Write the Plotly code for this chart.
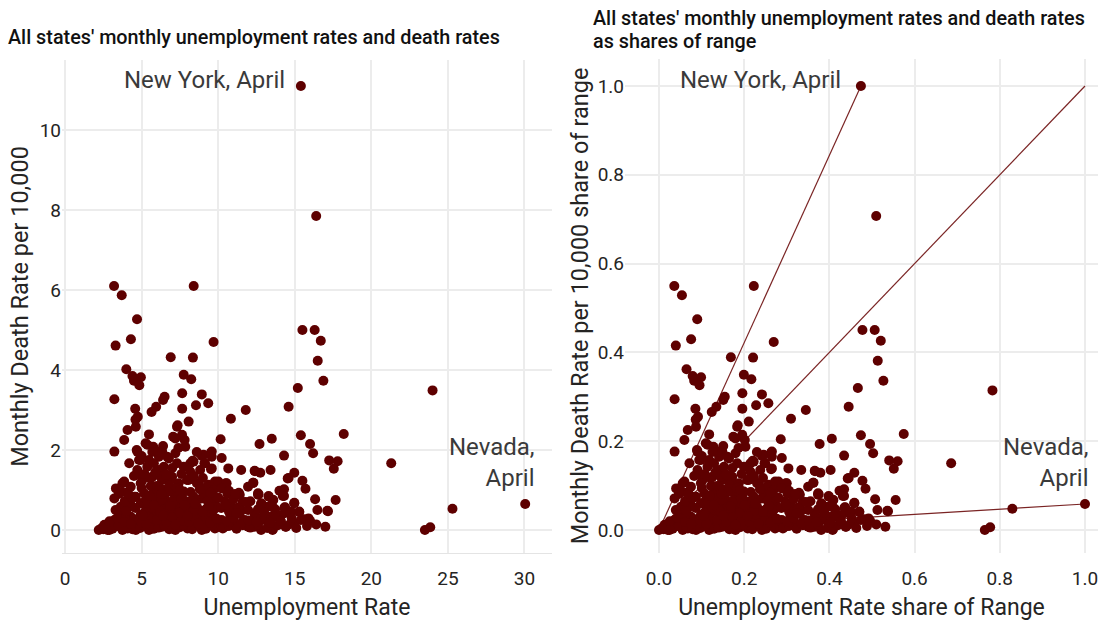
import plotly.graph_objects as go

W, H = 1101, 623

# Unemployment rate (x) and monthly death rate per 10,000 (y) for each state-month
unemployment = [
    15.4, 16.4, 3.2, 8.4, 3.7, 4.7, 4.3, 3.3, 9.7, 6.9, 8.35, 4.0, 4.4, 4.95, 4.5, 4.85,
    7.75, 8.24, 3.22, 7.65, 8.93, 6.5, 6.4, 5.95, 5.65, 7.65, 8.55, 9.35, 11.8, 4.58,
    4.75, 4.6, 4.62, 4.08, 7.35, 8.07, 10.83,
    15.5, 16.3, 16.7, 16.5, 16.87, 15.2, 14.6, 24.0, 15.4, 18.2, 12.7, 13.5, 16.0, 16.2,
    14.3, 21.3, 17.25, 17.8, 17.55, 12.4, 12.75, 13.42, 14.97, 14.6, 15.5, 15.7, 12.3,
    14.3, 14.3, 14.0, 12.64, 13.3, 13.6, 16.33, 17.67, 14.97, 12.8, 14.33, 13.72, 16.48,
    17.17, 14.76, 25.3, 30.05, 23.5, 23.85, 16.0, 15.6, 14.97, 14.4, 13.55, 13.03, 12.4,
    12.8, 13.46, 14.1, 15.3, 15.9, 15.4,
    3.86, 5.48, 7.06, 7.64, 7.81, 10.16, 3.22, 4.68, 5.26, 5.76, 6.34, 7.2, 8.93, 9.53,
    4.19, 4.83, 5.48, 6.13, 6.78, 8.18, 8.33, 9.1, 10.23, 9.53, 10.66, 11.5,
    3.32, 3.22, 3.75, 4.72, 5.05, 5.7, 6.34, 6.99, 6.13, 7.42, 8.07, 8.72, 9.37, 10.01,
    10.5, 11.41, 11.95, 12.6, 14.54,
    4.19, 3.75, 5.05, 4.62, 5.7, 6.56, 7.2, 8.07, 8.93, 9.79, 10.87, 11.52, 12.38, 13.25,
    13.68, 14.32, 14.43, 11.95, 11.09, 10.01, 8.93, 8.07, 7.2, 6.34, 5.48, 4.62, 3.75,
    2.89, 2.2, 2.5,
    7.31, 5.37, 4.72, 6.02, 6.67, 7.2, 7.85, 9.04, 9.14, 8.39, 9.58, 4.94, 5.37, 5.8,
    6.45, 7.31, 7.75, 8.17, 8.82, 4.72, 3.86, 4.29, 4.94, 5.59, 6.23, 6.88, 7.96, 8.61,
    9.26, 9.79, 4.51, 5.16, 5.8, 6.45, 7.1, 7.75, 8.39, 9.04, 9.69, 3.64, 4.29, 4.94,
    3.64, 3.22, 4.29, 4.94, 5.59, 6.23, 6.88, 7.53, 8.17, 8.82, 9.47, 2.57, 3.0, 3.64,
    4.08, 4.72, 5.37, 6.02, 6.67, 7.31, 7.96, 8.61, 9.26, 2.78, 6.02, 6.67, 7.31, 7.96,
    8.61, 9.26,
    9.58, 9.58, 12.38, 10.01, 10.55, 12.28, 9.69, 10.23, 11.35, 12.6, 13.29, 13.57, 14.22,
    12.82, 14.97, 9.58, 10.44, 11.31, 11.95, 13.57, 14.37, 14.71, 15.29, 17.13, 13.57,
    12.38, 11.73, 10.87, 10.23, 9.58, 11.31, 12.82, 10.44, 9.79,
    5.0, 5.6, 6.2, 6.8, 7.4, 8.0, 8.6, 9.2, 5.3, 5.9, 6.5, 7.1, 7.7, 8.3, 8.9, 9.5,
    5.0, 5.6, 6.2, 6.8, 7.4, 8.0, 8.6, 9.2, 5.3, 5.9, 6.5, 7.1, 7.7, 8.3, 5.6, 6.2,
    6.8, 7.4, 3.4, 3.9, 4.4, 3.5, 4.1, 10.6, 11.1, 11.6, 12.1, 10.8, 11.4, 12.0,
    2.4, 3.1, 3.5, 4.0, 4.4, 4.9, 5.2, 5.8, 6.1, 6.5, 7.0, 7.5, 7.7, 8.3, 8.8, 9.1,
    9.6, 10.3, 10.7, 11.2, 11.6, 12.1, 12.6, 13.2, 13.9, 14.7, 15.1, 15.8, 16.4, 17.0,
    2.9, 3.4, 3.9, 4.5, 5.0, 5.5, 6.0, 6.6, 7.0, 7.6, 8.1, 8.5, 9.0, 9.5, 9.9, 10.6,
    11.0, 11.5, 12.0, 12.5, 13.4, 14.1, 14.8,
    3.3, 4.0, 4.6, 5.2, 5.7, 6.2, 6.9, 7.5, 8.0, 8.4, 9.0, 9.7, 10.2, 10.7, 11.2, 12.6, 13.0,
    3.9, 4.4, 5.4, 5.9, 6.3, 7.0, 7.6, 8.5, 9.3, 10.0, 10.5, 11.0, 11.8,
    3.7, 4.1, 5.0, 5.5, 6.0, 6.7, 7.3, 8.2, 8.8, 9.5, 10.7, 11.1,
    4.5, 5.2, 5.9, 6.6, 7.0, 7.6, 8.4, 9.0,
    5.0, 5.7, 6.4, 7.4, 8.6,
    5.3, 6.4, 7.2, 8.0, 8.7, 5.8, 6.9, 7.8, 9.4, 4.3, 5.1, 6.3, 7.5,
]
death_rate = [
    11.1, 7.85, 6.1, 6.1, 5.87, 5.27, 4.77, 4.61, 4.7, 4.32, 4.31, 4.02, 3.85, 3.82, 3.73, 3.62,
    3.88, 3.77, 3.27, 3.42, 3.39, 3.33, 3.25, 3.08, 2.95, 3.03, 3.12, 3.17, 3.0, 3.03,
    2.83, 2.76, 2.58, 2.5, 2.62, 2.71, 2.78,
    5.0, 5.0, 4.73, 4.23, 3.73, 3.55, 3.08, 3.49, 2.37, 2.4, 2.15, 2.28, 2.15, 1.92,
    1.86, 1.67, 1.74, 1.72, 1.53, 1.47, 1.43, 1.5, 1.43, 1.3, 1.23, 1.03, 1.18,
    1.02, 0.85, 0.98, 0.89, 0.83, 0.75, 0.77, 0.75, 0.67, 0.65, 0.56, 0.52, 0.5,
    0.47, 0.46, 0.53, 0.65, 0.0, 0.07, 0.23, 0.27, 0.17, 0.08, 0.0, 0.25, 0.33,
    0.0, 0.33, 0.37, 0.45, 0.29, 0.25,
    2.25, 2.39, 2.33, 2.38, 2.25, 2.27, 1.96, 2.0, 2.17, 2.08, 1.96, 1.92, 1.85, 1.93,
    1.67, 1.75, 1.75, 1.83, 1.79, 1.67, 1.73, 1.67, 1.8, 1.52, 1.54, 1.5,
    1.04, 0.79, 1.17, 1.5, 1.25, 1.33, 1.25, 1.33, 1.5, 1.17, 1.25, 1.17, 1.13, 1.17,
    1.17, 0.88, 1.08, 0.88, 1.29,
    0.58, 0.42, 0.67, 0.83, 0.75, 0.67, 0.83, 0.71, 0.79, 0.67, 0.58, 0.5, 0.42, 0.58,
    0.33, 0.42, 0.08, 0.08, 0.17, 0.08, 0.0, 0.08, 0.0, 0.08, 0.0, 0.0, 0.0,
    0.0, 0.0, 0.02,
    2.58, 2.13, 1.96, 1.96, 1.83, 2.29, 2.08, 1.88, 1.67, 1.71, 1.83, 1.75, 1.58, 1.67,
    1.58, 1.67, 1.58, 1.46, 1.5, 1.42, 1.21, 1.08, 1.17, 1.29, 1.33, 1.25, 1.25, 1.17,
    1.08, 1.21, 0.83, 0.92, 0.96, 1.0, 0.92, 0.96, 0.83, 0.88, 0.75, 0.58, 0.63, 0.67,
    0.42, 0.25, 0.33, 0.38, 0.42, 0.38, 0.42, 0.33, 0.38, 0.33, 0.38, 0.13, 0.08, 0.17,
    0.04, 0.13, 0.08, 0.17, 0.08, 0.17, 0.08, 0.17, 0.08, 0.0, 0.58, 0.71, 0.63, 0.67,
    0.58, 0.54,
    1.96, 1.54, 1.48, 1.21, 1.17, 1.18, 1.0, 1.04, 0.93, 0.92, 0.85, 0.75, 0.85,
    0.67, 0.68, 0.75, 0.71, 0.57, 0.5, 0.57, 0.57, 0.42, 0.46, 0.48, 0.02,
    0.08, 0.25, 0.33, 0.25, 0.33, 0.13, 0.29, 0.08, 0.04,
    0.27, 0.24, 0.28, 0.22, 0.26, 0.23, 0.27, 0.21, 0.5, 0.47, 0.52, 0.49, 0.46, 0.51, 0.48, 0.45,
    0.12, 0.03, 0.1, 0.02, 0.11, 0.04, 0.12, 0.03, 0.78, 0.72, 0.8, 0.74, 0.77, 0.71, 1.1, 1.05,
    1.12, 1.06, 0.1, 0.28, 0.2, 0.9, 0.95, 0.9, 0.85, 0.7, 0.72, 0.35, 0.4, 0.2,
    0.05, 0.03, 0.1, 0.06, 0.02, 0.05, 0.1, 0.03, 0.06, 0.11, 0.04, 0.07, 0.12, 0.02, 0.09, 0.05,
    0.12, 0.04, 0.1, 0.03, 0.12, 0.06, 0.14, 0.05, 0.12, 0.15, 0.05, 0.1, 0.14, 0.08,
    0.22, 0.3, 0.2, 0.27, 0.18, 0.3, 0.25, 0.2, 0.32, 0.24, 0.21, 0.3, 0.26, 0.19, 0.28, 0.22,
    0.3, 0.17, 0.24, 0.2, 0.18, 0.22, 0.3,
    0.5, 0.47, 0.55, 0.44, 0.56, 0.46, 0.55, 0.43, 0.54, 0.48, 0.45, 0.5, 0.55, 0.46, 0.42, 0.52, 0.44,
    0.72, 0.8, 0.68, 0.8, 0.76, 0.7, 0.78, 0.66, 0.73, 0.81, 0.63, 0.77, 0.7,
    0.95, 0.9, 1.05, 0.86, 1.1, 0.95, 1.05, 0.95, 1.02, 0.93, 0.98, 0.9,
    1.35, 1.4, 1.45, 1.38, 1.55, 1.4, 1.35, 1.3,
    1.85, 1.95, 2.1, 2.05, 1.95,
    0.15, 0.36, 0.13, 0.35, 0.16, 0.62, 0.6, 0.62, 0.6, 0.15, 0.36, 0.9, 1.0,
]

x_ticks_left = [0, 5, 10, 15, 20, 25, 30]
y_ticks_left = [0, 2, 4, 6, 8, 10]
share_ticks = [0.0, 0.2, 0.4, 0.6, 0.8, 1.0]

# Shares of range
u_min, u_max = min(unemployment), max(unemployment)
d_min, d_max = min(death_rate), max(death_rate)
u_share = [(u - u_min) / (u_max - u_min) for u in unemployment]
d_share = [(d - d_min) / (d_max - d_min) for d in death_rate]

i_ny = death_rate.index(d_max)          # New York, April
i_nv = unemployment.index(u_max)        # Nevada, April

DOT = "#5e0000"
LINE = "#7a2424"
GRID = "#ececec"
TXT = "#252423"
FONT = "Roboto"

fig = go.Figure()

# reference lines in right panel (from origin)
for xe, ye in [(u_share[i_ny], d_share[i_ny]), (1.0, 1.0), (u_share[i_nv], d_share[i_nv])]:
    fig.add_trace(go.Scatter(x=[0, xe], y=[0, ye], mode="lines", xaxis="x2", yaxis="y2",
                             line=dict(color=LINE, width=1.2), hoverinfo="skip", showlegend=False))

fig.add_trace(go.Scatter(x=unemployment, y=death_rate, mode="markers", xaxis="x", yaxis="y",
                         marker=dict(color=DOT, size=10, line=dict(width=0)), showlegend=False))
fig.add_trace(go.Scatter(x=u_share, y=d_share, mode="markers", xaxis="x2", yaxis="y2",
                         marker=dict(color=DOT, size=10, line=dict(width=0)), showlegend=False))

def px_x(a, b):
    return [a / W, b / W]

def px_y(top, bottom):
    return [(H - bottom) / H, (H - top) / H]

tickfont = dict(family=FONT, size=19, color=TXT)
xtitlefont = dict(family=FONT, size=23, color=TXT)
ytitlefont = dict(family=FONT, size=23.5, color=TXT)
annfont = dict(family=FONT, size=24, color="#3a3a3a")
headfont = dict(family=FONT, size=19.8, color="#111111", weight=500)

common = dict(showgrid=True, gridcolor=GRID, gridwidth=1.5, zeroline=False,
              tickfont=tickfont, automargin=False)

fig.update_layout(
    width=W, height=H, margin=dict(l=0, r=0, t=0, b=0),
    paper_bgcolor="white", plot_bgcolor="white",
    font=dict(family=FONT, color=TXT),
    xaxis=dict(domain=px_x(62, 552), range=[-0.2, 31.8], tickvals=x_ticks_left,
               showline=True, linecolor="#e4e4e4", linewidth=1,
               ticks="outside", ticklen=8, tickcolor="rgba(0,0,0,0)",
               title=dict(text="Unemployment Rate", font=xtitlefont, standoff=10), **common),
    yaxis=dict(domain=px_y(60, 553), range=[-0.575, 11.75], tickvals=y_ticks_left,
               ticks="", ticklen=0,
               title=dict(text="Monthly Death Rate per 10,000", font=ytitlefont, standoff=4), **common),
    xaxis2=dict(domain=px_x(625, 1098), range=[-0.0798, 1.0305], tickvals=share_ticks,
                tickformat=".1f", anchor="y2",
                ticks="outside", ticklen=8, tickcolor="rgba(0,0,0,0)",
                title=dict(text="Unemployment Rate share of Range", font=xtitlefont, standoff=10), **common),
    yaxis2=dict(domain=px_y(59, 553), range=[-0.0518, 1.0608], tickvals=share_ticks,
                tickformat=".1f", anchor="x2", ticks="", ticklen=0,
                title=dict(text="Monthly Death Rate per 10,000 share of range", font=ytitlefont, standoff=2),
                **common),
    shapes=[
        dict(type="line", xref="x domain", yref="y", x0=0.005, x1=1, y0=0, y1=0,
             line=dict(color="#b5b5b5", width=1, dash="dot"), layer="below"),
        dict(type="line", xref="x2 domain", yref="y2", x0=0, x1=1, y0=0, y1=0,
             line=dict(color="#b5b5b5", width=1, dash="dot"), layer="below"),
        dict(type="line", xref="x2", yref="y2 domain", x0=0, x1=0, y0=0, y1=1,
             line=dict(color="#b5b5b5", width=1, dash="dot"), layer="below"),
    ],
    annotations=[
        dict(text="All states' monthly unemployment rates and death rates", xref="paper", yref="paper",
             x=6 / W, y=1 - 37 / H, xanchor="left", yanchor="middle", showarrow=False, font=headfont),
        dict(text="All states' monthly unemployment rates and death rates",
             xref="paper", yref="paper", x=591 / W, y=1 - 18 / H, xanchor="left", yanchor="middle",
             showarrow=False, font=headfont),
        dict(text="as shares of range",
             xref="paper", yref="paper", x=591 / W, y=1 - 42 / H, xanchor="left", yanchor="middle",
             showarrow=False, font=headfont),
        dict(text="New York, April", xref="x", yref="y", x=unemployment[i_ny], y=death_rate[i_ny],
             xanchor="right", yanchor="middle", xshift=-14, yshift=6, showarrow=False, font=annfont),
        dict(text="Nevada,<br>April", xref="x", yref="y", x=unemployment[i_nv], y=death_rate[i_nv],
             xanchor="right", yanchor="bottom", xshift=12, yshift=10, align="right", showarrow=False,
             font=annfont),
        dict(text="New York, April", xref="x2", yref="y2", x=u_share[i_ny], y=d_share[i_ny],
             xanchor="right", yanchor="middle", xshift=-18, yshift=6, showarrow=False, font=annfont),
        dict(text="Nevada,<br>April", xref="x2", yref="y2", x=u_share[i_nv], y=d_share[i_nv],
             xanchor="right", yanchor="bottom", xshift=6, yshift=10, align="right", showarrow=False,
             font=annfont),
    ],
)

fig.write_html("out.html", config={"displayModeBar": False},
               post_script="document.body.style.margin='0px';")
